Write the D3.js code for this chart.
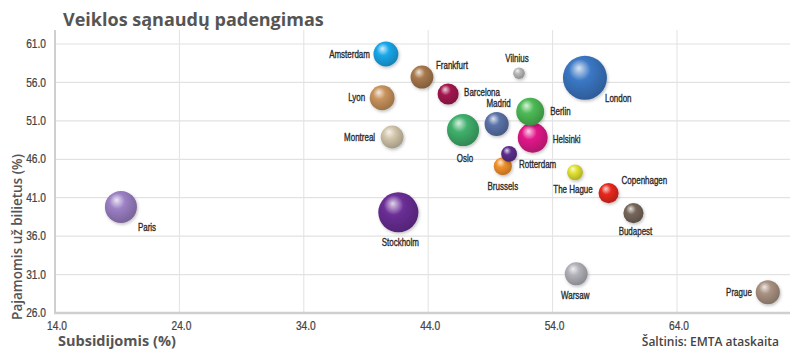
<!DOCTYPE html>
<html>
<head>
<meta charset="utf-8">
<script src="https://cdn.jsdelivr.net/npm/d3@7"></script>
<style>
  body { margin: 0; background: #fff; }
  .tick-label, .city { font-family: "Liberation Sans", Arial, sans-serif; }
  .heading { font-family: "Open Sans", sans-serif; }
</style>
</head>
<body>
<svg id="chart"></svg>
<script>
// Subsidijomis (%), pajamomis už bilietus (%), burbulo dydis
const cities = ["Amsterdam", "Frankfurt", "Lyon", "Barcelona", "Montreal", "Oslo", "Madrid", "Vilnius", "London", "Berlin",
                "Helsinki", "Rotterdam", "Brussels", "The Hague", "Copenhagen", "Budapest", "Stockholm", "Warsaw", "Prague", "Paris"];
const subsidies = [40.6, 43.5, 40.3, 45.6, 41.1, 46.8, 49.5, 51.3, 56.6, 52.2,
                   52.4, 50.5, 50.0, 55.8, 58.5, 60.5, 41.6, 55.9, 71.3, 19.3];
const fares = [59.7, 56.7, 54.0, 54.5, 48.9, 49.8, 50.6, 57.2, 56.6, 52.2,
               48.8, 46.7, 45.1, 44.3, 41.6, 39.0, 39.1, 31.1, 28.7, 39.8];
const sizes = [32, 27, 32, 23, 27, 53, 30, 7, 100, 40,
               46, 13, 17, 13, 21, 21, 83, 27, 30, 53];
const colors = ["#1aa8ea", "#a8794d", "#c9935d", "#a3184f", "#d3c6ab", "#40b06c", "#5b73a9", "#b8b8b8", "#3b78c5", "#4dbb56",
                "#e3198b", "#5b2e8c", "#f2912b", "#e2e232", "#e8291f", "#76675b", "#6b2e97", "#b2b2ba", "#aa9282", "#9c80c5"];
const xTicks = [14, 24, 34, 44, 54, 64];
const yTicks = [26, 31, 36, 41, 46, 51, 56, 61];

// label placement: [dx, dy, anchor]
const labelPos = {
  "Amsterdam": [-16, 0, "end"], "Frankfurt": [14, -12, "start"], "Lyon": [-17, 0, "end"],
  "Barcelona": [16, -2, "start"], "Montreal": [-17, 0, "end"], "Oslo": [2, 28, "middle"],
  "Madrid": [2, -21, "middle"], "Vilnius": [-2, -15, "middle"], "London": [20, 21, "start"],
  "Berlin": [20, 0, "start"], "Helsinki": [20, 2, "start"], "Rotterdam": [10, 10, "start"],
  "Brussels": [0, 20, "middle"], "The Hague": [-2, 17, "middle"], "Copenhagen": [13, -13, "start"],
  "Budapest": [2, 18, "middle"], "Stockholm": [2, 30, "middle"], "Warsaw": [-1, 22, "middle"],
  "Prague": [-16, 0, "end"], "Paris": [17, 20, "start"]
};

const data = cities.map((c, i) => ({ city: c, x: subsidies[i], y: fares[i], size: sizes[i], color: colors[i] }));

const W = 800, H = 351;
const margin = { top: 30, right: 10, bottom: 38, left: 55 };
const narrow = 0.76; // condensed look for labels

const svg = d3.select("#chart").attr("width", W).attr("height", H);

const x = d3.scaleLinear().domain([14, 64]).range([margin.left, 677]);
const y = d3.scaleLinear().domain([26, 61]).range([H - margin.bottom, 44]);
const r = d3.scaleSqrt().domain([0, 100]).range([0, 22]);

const xMax = x.invert(W - margin.right);
const plotTop = margin.top, plotBottom = H - margin.bottom;

// gradients
const defs = svg.append("defs");
data.forEach((d, i) => {
  const base = d3.color(d.color);
  const g = defs.append("radialGradient").attr("id", "g" + i)
      .attr("cx", "42%").attr("cy", "38%").attr("r", "62%").attr("fx", "36%").attr("fy", "28%");
  g.append("stop").attr("offset", "0%").attr("stop-color", d3.interpolateRgb(d.color, "#fff")(0.8));
  g.append("stop").attr("offset", "40%").attr("stop-color", d.color);
  g.append("stop").attr("offset", "100%").attr("stop-color", base.darker(0.7));
});
const f = defs.append("filter").attr("id", "shadow").attr("x", "-30%").attr("y", "-30%").attr("width", "160%").attr("height", "160%");
f.append("feDropShadow").attr("dx", 1).attr("dy", 1.5).attr("stdDeviation", 1.5).attr("flood-color", "#000").attr("flood-opacity", 0.25);

// grid
svg.append("g")
  .selectAll("line").data(yTicks.slice(1)).join("line")
  .attr("x1", x(14)).attr("x2", x(xMax))
  .attr("y1", d => y(d)).attr("y2", d => y(d))
  .attr("stroke", "#e2e2e2").attr("stroke-width", 1.2);
svg.append("g")
  .selectAll("line").data(xTicks.slice(1)).join("line")
  .attr("x1", d => x(d)).attr("x2", d => x(d))
  .attr("y1", plotTop).attr("y2", plotBottom)
  .attr("stroke", "#e2e2e2").attr("stroke-width", 1);

// axes lines
svg.append("line").attr("x1", x(14)).attr("x2", x(14)).attr("y1", plotTop).attr("y2", plotBottom + 1)
  .attr("stroke", "#cfcfcf").attr("stroke-width", 2);
svg.append("line").attr("x1", x(14) - 1).attr("x2", x(xMax)).attr("y1", plotBottom).attr("y2", plotBottom)
  .attr("stroke", "#cfcfcf").attr("stroke-width", 2.5);

// tick labels
svg.append("g").selectAll("text").data(yTicks).join("text")
  .attr("class", "tick-label")
  .attr("transform", d => `translate(46,${y(d)}) scale(0.85,1)`)
  .attr("dy", "0.35em")
  .attr("text-anchor", "end")
  .style("font-size", "12px").style("fill", "#444")
  .style("stroke", "#444").style("stroke-width", 0.25)
  .text(d => d3.format(".1f")(d));
svg.append("g").selectAll("text").data(xTicks).join("text")
  .attr("class", "tick-label")
  .attr("transform", d => `translate(${x(d) + 2},326) scale(0.85,1)`)
  .attr("dy", "0.35em")
  .attr("text-anchor", "middle")
  .style("font-size", "12px").style("fill", "#444")
  .style("stroke", "#444").style("stroke-width", 0.25)
  .text(d => d3.format(".1f")(d));

// bubbles
const sorted = data.map((d, i) => ({ ...d, i })).sort((a, b) => b.size - a.size);
svg.append("g").selectAll("circle").data(sorted).join("circle")
  .attr("cx", d => x(d.x)).attr("cy", d => y(d.y)).attr("r", d => r(d.size))
  .attr("fill", d => `url(#g${d.i})`)
  .attr("filter", "url(#shadow)");

// city labels
svg.append("g").selectAll("text").data(data).join("text")
  .attr("class", "city")
  .attr("transform", d => `translate(${x(d.x) + labelPos[d.city][0]},${y(d.y) + labelPos[d.city][1]}) scale(${narrow},1)`)
  .attr("dy", "0.35em")
  .attr("text-anchor", d => labelPos[d.city][2])
  .style("font-size", "10.5px").style("fill", "#2a2a2a")
  .style("stroke", "#2a2a2a").style("stroke-width", 0.35)
  .text(d => d.city);

// titles
svg.append("text").attr("class", "heading")
  .attr("x", 63).attr("y", 26)
  .style("font-size", "18px").style("font-weight", "bold").style("fill", "#555")
  .text("Veiklos sąnaudų padengimas");

svg.append("text").attr("class", "heading")
  .attr("transform", `translate(22,237) rotate(-90)`)
  .attr("text-anchor", "middle")
  .style("font-size", "13.5px").style("font-weight", "600").style("fill", "#555")
  .text("Pajamomis už bilietus (%)");

svg.append("text").attr("class", "heading")
  .attr("x", 58).attr("y", 346)
  .style("font-size", "14.5px").style("font-weight", "bold").style("fill", "#555")
  .text("Subsidijomis (%)");

svg.append("text").attr("class", "heading")
  .attr("x", 779).attr("y", 346).attr("text-anchor", "end")
  .style("font-size", "12px").style("font-weight", "600").style("fill", "#444")
  .text("Šaltinis: EMTA ataskaita");
</script>
</body>
</html>
